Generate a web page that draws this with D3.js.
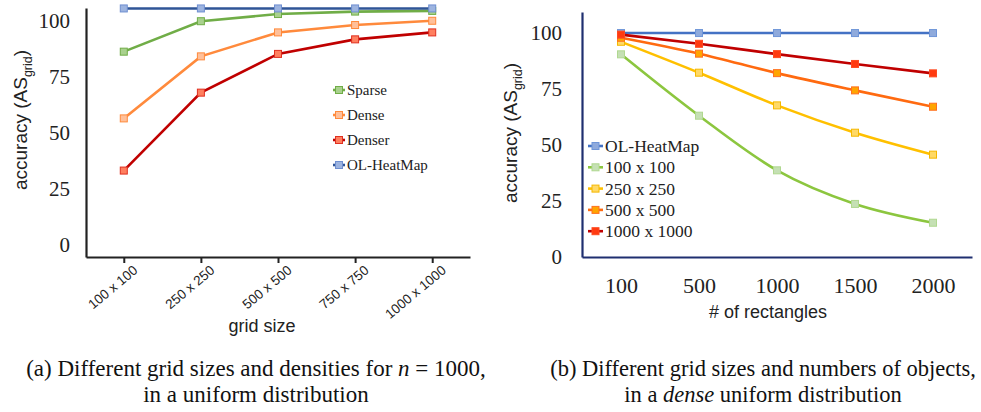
<!DOCTYPE html>
<html>
<head>
<meta charset="utf-8">
<script src="https://cdn.jsdelivr.net/npm/d3@7"></script>
<style>
  body { margin: 0; background: #fff; }
  .serif { font-family: "Liberation Serif", "Times New Roman", serif; }
  .sans { font-family: "Liberation Sans", Arial, sans-serif; }
</style>
</head>
<body>
<svg id="canvas" width="981" height="412"></svg>
<script>
// ---- data, chart (a) ----
var gridSizes = ["100 x 100", "250 x 250", "500 x 500", "750 x 750", "1000 x 1000"];
var sparse = [86.3, 99.9, 103.1, 104.2, 104.5];
var dense = [56.5, 84.2, 94.9, 98.2, 100.1];
var denser = [33.2, 68.0, 85.3, 91.8, 94.9];
var olHeatMapA = [105.6, 105.6, 105.6, 105.6, 105.6];
var yTicks = [0, 25, 50, 75, 100];

// ---- data, chart (b) ----
var rectCounts = ["100", "500", "1000", "1500", "2000"];
var olHeatMapB = [100, 100, 100, 100, 100];
var g100 = [90.5, 63.1, 38.7, 23.7, 15.3];
var g250 = [96.1, 82.3, 67.7, 55.5, 45.7];
var g500 = [97.9, 90.8, 82.1, 74.4, 67.1];
var g1000 = [99.3, 95.2, 90.6, 86.2, 82.0];

var svg = d3.select("#canvas");
svg.append("rect").attr("width", 981).attr("height", 412).attr("fill", "#fff");

function yTitle(x, y) {
  var t = svg.append("text")
    .attr("class", "sans")
    .attr("transform", "translate(" + x + "," + y + ") rotate(-90)")
    .attr("text-anchor", "middle")
    .attr("font-size", 19)
    .attr("fill", "#222");
  t.append("tspan").text("accuracy (AS");
  t.append("tspan").attr("font-size", 12.5).attr("dy", 5).text("grid");
  t.append("tspan").attr("dy", -5).text(")");
}

function drawSeries(g, x, y, series, curve) {
  var line = d3.line()
    .x(function(d, i) { return x(x.domain()[i]); })
    .y(function(d) { return y(d); })
    .curve(curve);
  series.forEach(function(s) {
    g.append("path")
      .datum(s.values)
      .attr("d", line)
      .attr("fill", "none")
      .attr("stroke", s.line)
      .attr("stroke-width", 2.6);
    g.selectAll(null)
      .data(s.values)
      .enter().append("rect")
      .attr("x", function(d, i) { return x(x.domain()[i]) - 3.5; })
      .attr("y", function(d) { return y(d) - 3.5; })
      .attr("width", 7)
      .attr("height", 7)
      .attr("fill", s.marker)
      .attr("stroke", s.edge)
      .attr("stroke-width", 1);
  });
}

function drawLegend(g, series, x0, y0, step, fs, len) {
  series.forEach(function(s, i) {
    var yy = y0 + i * step;
    g.append("line")
      .attr("x1", x0).attr("x2", x0 + len)
      .attr("y1", yy).attr("y2", yy)
      .attr("stroke", s.line).attr("stroke-width", 2.6);
    g.append("rect")
      .attr("x", x0 + len / 2 - 3.5).attr("y", yy - 3.5)
      .attr("width", 7).attr("height", 7)
      .attr("fill", s.marker).attr("stroke", s.edge);
    g.append("text")
      .attr("class", "serif")
      .attr("x", x0 + len + 2)
      .attr("y", yy)
      .attr("dy", "0.35em")
      .attr("font-size", fs)
      .attr("fill", "#222")
      .text(s.name);
  });
}

// ---------- chart (a) ----------
var gA = svg.append("g");
var xA = d3.scalePoint().domain(gridSizes).range([86, 470]).padding(0.49);
var yA = d3.scaleLinear().domain([-5.4, 105.8]).range([257, 8]);

gA.append("g")
  .attr("transform", "translate(86,0)")
  .call(d3.axisLeft(yA).tickValues(yTicks).tickSize(0).tickPadding(16))
  .call(function(a) {
    a.select(".domain").attr("stroke", "#222").attr("stroke-width", 2.2);
    a.selectAll("text").attr("font-size", 21).attr("fill", "#222").style("font-family", "Liberation Serif");
  });

gA.append("g")
  .attr("transform", "translate(0,257)")
  .call(d3.axisBottom(xA).tickSizeInner(6).tickSizeOuter(0))
  .call(function(a) {
    a.select(".domain").attr("stroke", "#222").attr("stroke-width", 2.2);
    a.selectAll(".tick line").attr("stroke", "#222").attr("stroke-width", 2);
    a.selectAll("text")
      .attr("font-size", 13.5)
      .attr("fill", "#222")
      .style("font-family", "Liberation Sans")
      .attr("text-anchor", "end")
      .attr("transform", "translate(6,5) rotate(-40)")
      .attr("dy", "0.35em")
      .attr("y", 8)
      .attr("x", 0);
  });

var seriesA = [
  { name: "Sparse", values: sparse, line: "#70ad47", marker: "#a9d18e", edge: "#70ad47" },
  { name: "Dense", values: dense, line: "#ff8a3c", marker: "#ffc09a", edge: "#ff8a3c" },
  { name: "Denser", values: denser, line: "#c00000", marker: "#ff7f5f", edge: "#e03020" },
  { name: "OL-HeatMap", values: olHeatMapA, line: "#2f5597", marker: "#9db4e0", edge: "#6f8fd0" }
];
drawSeries(gA, xA, yA, seriesA, d3.curveLinear);
drawLegend(gA, seriesA, 333, 90, 25, 15, 12);

gA.append("text")
  .attr("class", "sans")
  .attr("x", 262).attr("y", 332)
  .attr("text-anchor", "middle")
  .attr("font-size", 18)
  .attr("fill", "#222")
  .text("grid size");
yTitle(27, 120);

// ---------- chart (b) ----------
var gB = svg.append("g");
var xB = d3.scalePoint().domain(rectCounts).range([582, 972]).padding(0.5);
var yB = d3.scaleLinear().domain([0, 109.4]).range([257, 12]);

gB.append("g")
  .attr("transform", "translate(582,0)")
  .call(d3.axisLeft(yB).tickValues(yTicks).tickSize(0).tickPadding(20))
  .call(function(a) {
    a.select(".domain").attr("stroke", "#1f2f70").attr("stroke-width", 2.2);
    a.selectAll("text").attr("font-size", 21).attr("fill", "#222").style("font-family", "Liberation Serif");
  });

gB.append("g")
  .attr("transform", "translate(0,257)")
  .call(d3.axisBottom(xB).tickSize(0).tickPadding(20))
  .call(function(a) {
    a.select(".domain").attr("stroke", "#1f2f70").attr("stroke-width", 2.2);
    a.selectAll("text").attr("font-size", 22).attr("fill", "#222").style("font-family", "Liberation Serif");
  });

var seriesB = [
  { name: "OL-HeatMap", values: olHeatMapB, line: "#4472c4", marker: "#8faadc", edge: "#6f95d8" },
  { name: "100 x 100", values: g100, line: "#8cc63f", marker: "#c5e0b4", edge: "#b0d890" },
  { name: "250 x 250", values: g250, line: "#ffc000", marker: "#ffd966", edge: "#f5b800" },
  { name: "500 x 500", values: g500, line: "#ff6a10", marker: "#ffa500", edge: "#ff7020" },
  { name: "1000 x 1000", values: g1000, line: "#c00000", marker: "#ff3a10", edge: "#ff4a20" }
];
drawSeries(gB, xB, yB, seriesB, d3.curveMonotoneX);
drawLegend(gB, seriesB, 588, 146, 21.3, 17.5, 15);

gB.append("text")
  .attr("class", "sans")
  .attr("x", 768).attr("y", 318)
  .attr("text-anchor", "middle")
  .attr("font-size", 18)
  .attr("fill", "#222")
  .text("# of rectangles");
yTitle(517, 133);

// ---------- captions ----------
var capA = svg.append("text").attr("class", "serif").attr("x", 256).attr("y", 376)
  .attr("text-anchor", "middle").attr("font-size", 23).attr("fill", "#111");
capA.append("tspan").text("(a) Different grid sizes and densities for ");
capA.append("tspan").attr("font-style", "italic").text("n");
capA.append("tspan").text(" = 1000,");
svg.append("text").attr("class", "serif").attr("x", 256).attr("y", 402)
  .attr("text-anchor", "middle").attr("font-size", 23).attr("fill", "#111")
  .text("in a uniform distribution");

svg.append("text").attr("class", "serif").attr("x", 763).attr("y", 376)
  .attr("text-anchor", "middle").attr("font-size", 22.5).attr("fill", "#111")
  .text("(b) Different grid sizes and numbers of objects,");
var capB = svg.append("text").attr("class", "serif").attr("x", 763).attr("y", 402)
  .attr("text-anchor", "middle").attr("font-size", 22.5).attr("fill", "#111");
capB.append("tspan").text("in a ");
capB.append("tspan").attr("font-style", "italic").text("dense");
capB.append("tspan").text(" uniform distribution");
</script>
</body>
</html>
